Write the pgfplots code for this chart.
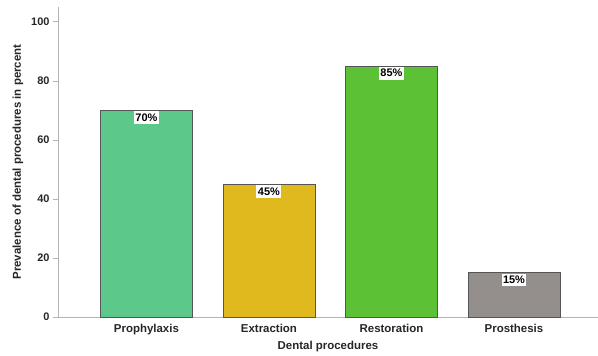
\documentclass[border=0pt]{standalone}
\usepackage{pgfplots}
\pgfplotsset{compat=1.18}
\usepackage{fontspec}
\setmainfont{Liberation Sans}

\definecolor{cProph}{HTML}{5CC98A}
\definecolor{cExtr}{HTML}{E0B91E}
\definecolor{cRest}{HTML}{5DC135}
\definecolor{cPros}{HTML}{948E8C}
\definecolor{axisgray}{HTML}{B4B4B4}
\definecolor{edgegray}{HTML}{555555}

\begin{document}
\begin{tikzpicture}
\path[use as bounding box] (-58bp,-39bp) rectangle (540bp,317bp);
\begin{axis}[
  at={(0,0)}, anchor=south west,
  scale only axis,
  width=540bp, height=310bp,
  xmin=-0.722, xmax=3.686,
  ymin=0, ymax=105,
  axis lines=left,
  axis line style={axisgray, line width=0.8pt, -},
  xtick={0,1,2,3},
  xticklabels={Prophylaxis,Extraction,Restoration,Prosthesis},
  x tick label style={font=\bfseries\fontsize{11.5}{12}\selectfont, text=black!85,
    anchor=base, yshift=-10bp},
  major x tick style={draw=none},
  ytick={0,20,40,60,80,100},
  y tick label style={font=\bfseries\fontsize{11}{12}\selectfont, text=black!85},
  /pgf/number format/assume math mode=true,
  major y tick style={axisgray, line width=0.6pt},
  tick align=outside,
  major tick length=5bp,
  xlabel={\bfseries Dental procedures},
  ylabel={\bfseries Prevalence of dental procedures in percent},
  xlabel style={font=\fontsize{11.5}{12}\selectfont, text=black!85,
    at={(axis description cs:0.5,0)}, anchor=base, yshift=-32bp},
  ylabel style={font=\fontsize{11.5}{12}\selectfont, text=black!85,
    at={(axis description cs:0,0.5)}, anchor=center, yshift=40bp},
  ybar, bar width=92bp, bar shift=0pt,
  every axis plot/.append style={draw=edgegray, line width=0.6pt},
  clip=false,
]
\addplot[fill=cProph] coordinates {(0,70)};
\addplot[fill=cExtr] coordinates {(1,45)};
\addplot[fill=cRest] coordinates {(2,85)};
\addplot[fill=cPros] coordinates {(3,15)};

% value boxes just inside the top of each bar
\addplot[draw=none, fill=none, only marks, mark=none,
  nodes near coords={\bfseries\pgfmathprintnumber{\pgfplotspointmeta}\%},
  nodes near coords style={anchor=north, fill=white, inner xsep=1.5pt, inner ysep=2.5pt,
    font=\fontsize{11}{12}\selectfont, text=black, yshift=-0.5bp},
  point meta=explicit]
  coordinates {(0,70) [70] (1,45) [45] (2,85) [85] (3,15) [15]};
\end{axis}
\end{tikzpicture}
\end{document}
